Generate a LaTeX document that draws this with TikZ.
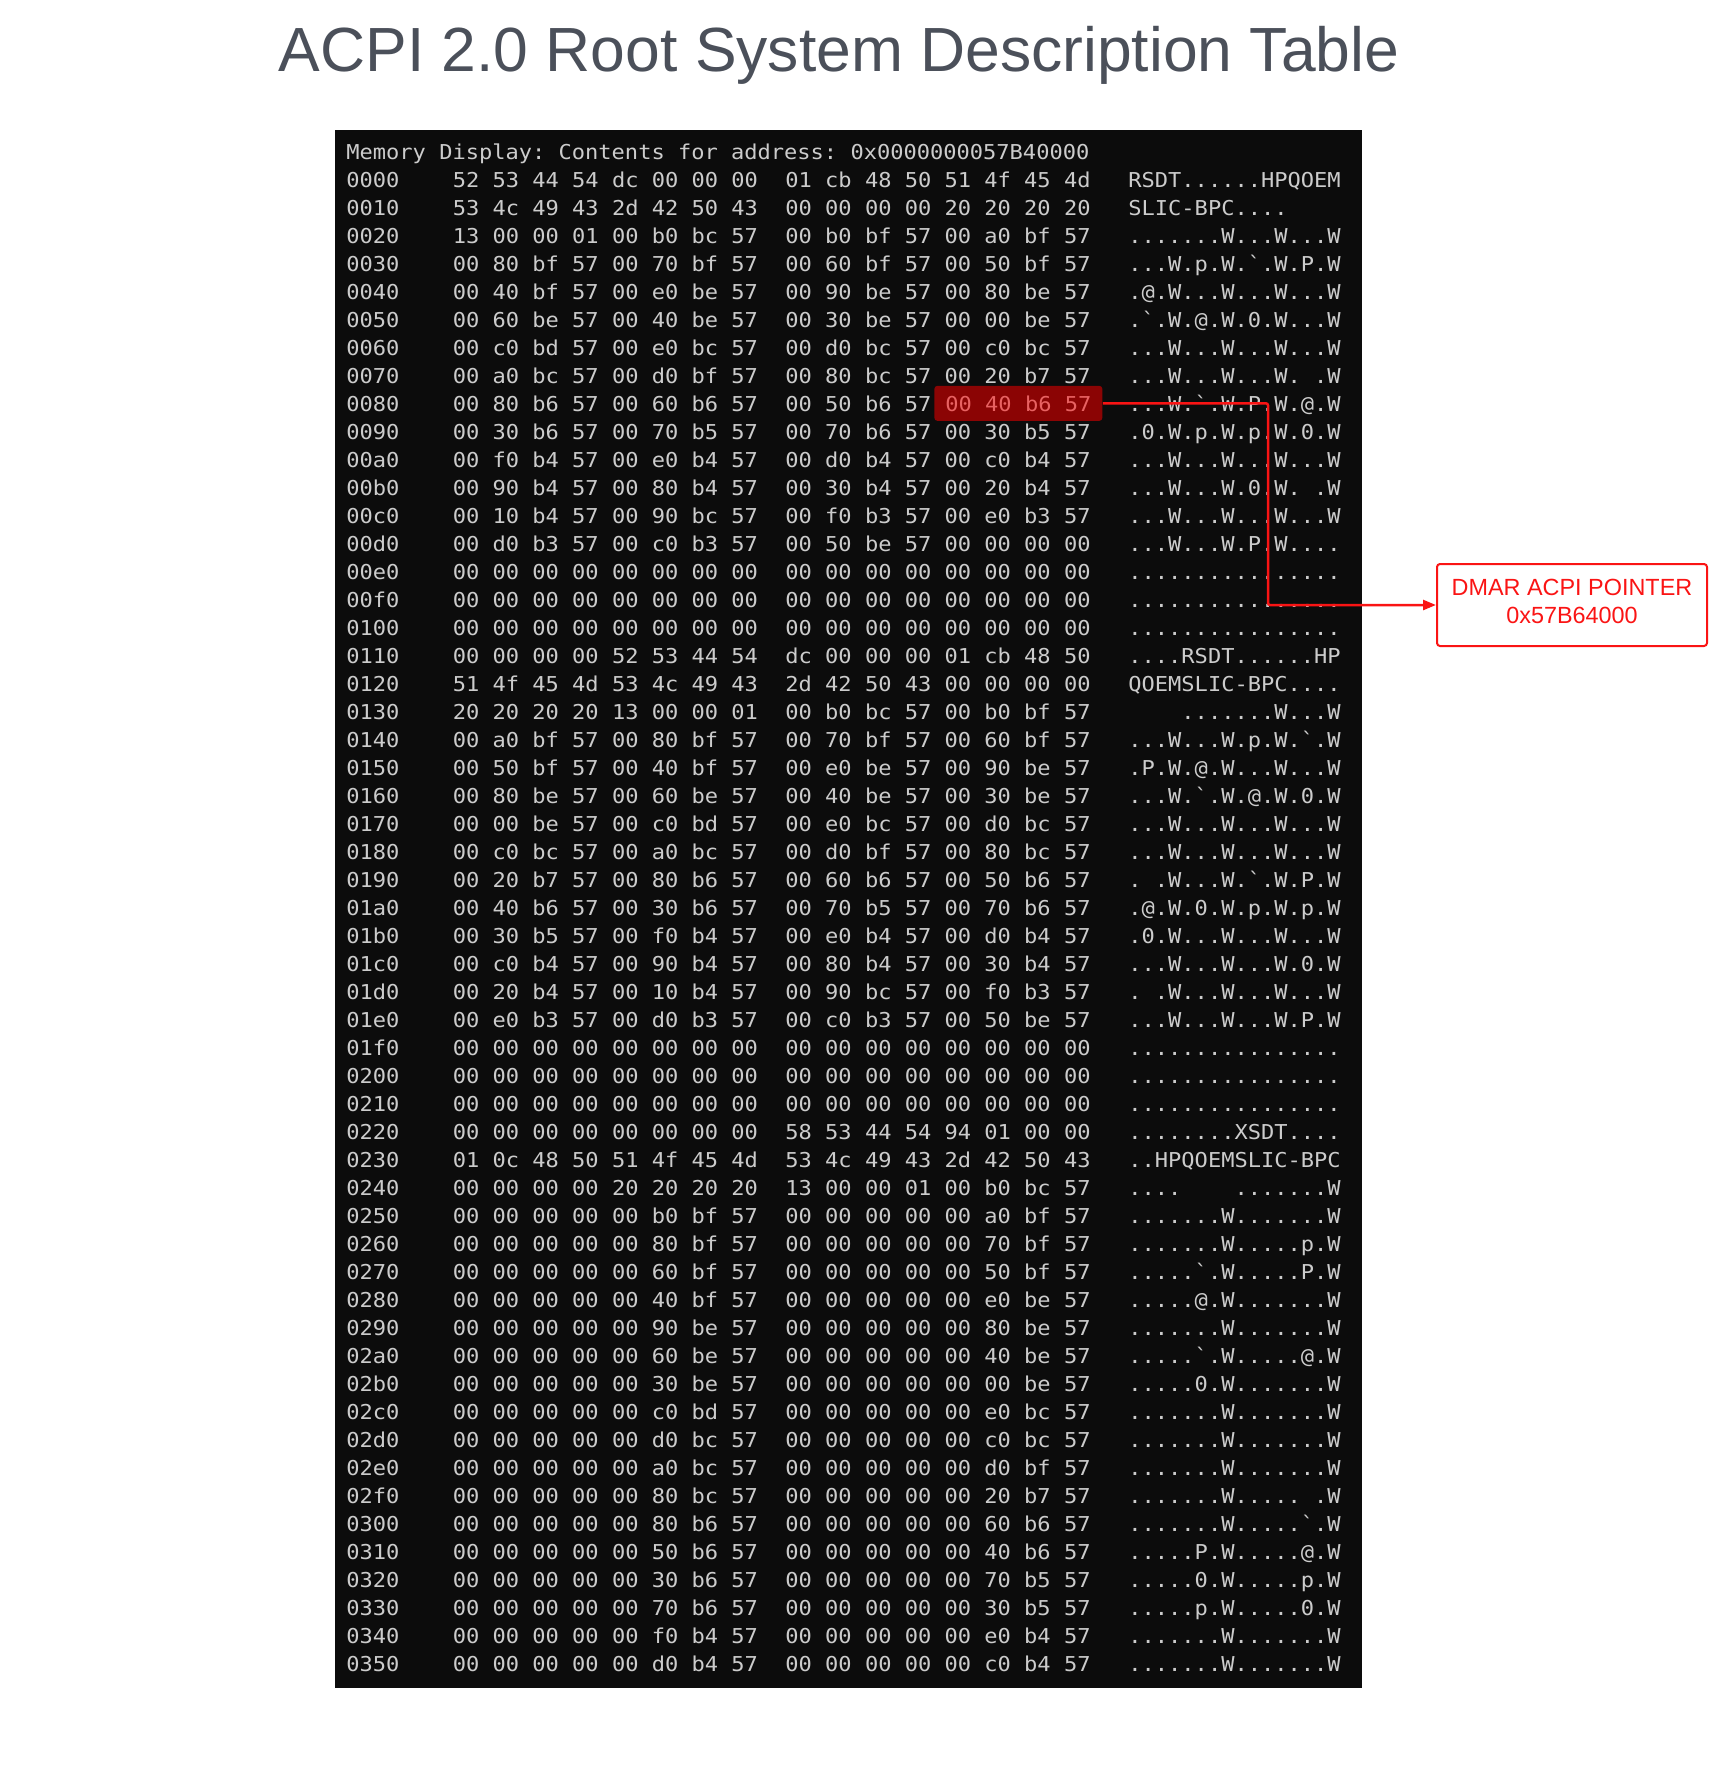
\documentclass[tikz,border=0pt]{standalone}
\usepackage{fontspec}
\setmainfont{Liberation Sans}
\newfontfamily\termfont{DejaVu Sans Mono}[FakeStretch=1.075,Ligatures=TeXOff]
\usetikzlibrary{arrows.meta}

\definecolor{termbg}{RGB}{12,12,12}
\definecolor{termgray}{RGB}{204,204,204}
\definecolor{hlred}{RGB}{139,4,4}
\definecolor{hltext}{RGB}{232,98,98}
\definecolor{ptrred}{RGB}{250,20,20}
\definecolor{titlegray}{RGB}{75,80,90}

% one line of the memory dump: index, address, low bytes, high bytes, ascii
\newcommand{\memrow}[5]{%
  \node[memtext] (adr#2) at (346,{187+28.0*#1}) {#2};
  \node[memtext] (lo#2) at (452.4,{187+28.0*#1}) {#3};
  \node[memtext] (hi#2) at (785,{187+28.0*#1}) {#4};
  \node[memtext] (txt#2) at (1128,{187+28.0*#1}) {#5};}

\begin{document}
\begin{tikzpicture}[
  x=0.5pt, y=-0.5pt,
  memtext/.style={inner sep=0pt, anchor=base west, text=termgray,
    font={\termfont\fontsize{10.25pt}{12pt}\selectfont\frenchspacing}},
  hilite/.style={memtext, fill=hlred, text=hltext, rounded corners=1.5pt,
    inner xsep=5.5pt, minimum height=17.5pt},
  ptrbox/.style={rectangle, draw=ptrred, line width=1pt, rounded corners=1.5pt,
    minimum width=135pt, minimum height=41pt, align=center, text=ptrred,
    font={\fontsize{11.7pt}{14pt}\selectfont}},
  ptrline/.style={draw=ptrred, line width=1.25pt, rounded corners=1pt,
    -{Triangle[length=6.5pt,width=5pt]}}
]
\useasboundingbox (0,0) rectangle (1725,1774);

\node[anchor=base, text=titlegray, font={\fontsize{31.2pt}{36pt}\selectfont}] (title)
  at (839,71.7) {ACPI 2.0 Root System Description Table};

% terminal window
\fill[termbg] (335,130) rectangle (1362,1688);
\node[memtext] (hdr) at (346,159) {Memory Display: Contents for address: 0x0000000057B40000};

\memrow{0}{0000}{52 53 44 54 dc 00 00 00}{01 cb 48 50 51 4f 45 4d}{RSDT......HPQOEM}
\memrow{1}{0010}{53 4c 49 43 2d 42 50 43}{00 00 00 00 20 20 20 20}{SLIC-BPC....}
\memrow{2}{0020}{13 00 00 01 00 b0 bc 57}{00 b0 bf 57 00 a0 bf 57}{.......W...W...W}
\memrow{3}{0030}{00 80 bf 57 00 70 bf 57}{00 60 bf 57 00 50 bf 57}{...W.p.W.`.W.P.W}
\memrow{4}{0040}{00 40 bf 57 00 e0 be 57}{00 90 be 57 00 80 be 57}{.@.W...W...W...W}
\memrow{5}{0050}{00 60 be 57 00 40 be 57}{00 30 be 57 00 00 be 57}{.`.W.@.W.0.W...W}
\memrow{6}{0060}{00 c0 bd 57 00 e0 bc 57}{00 d0 bc 57 00 c0 bc 57}{...W...W...W...W}
\memrow{7}{0070}{00 a0 bc 57 00 d0 bf 57}{00 80 bc 57 00 20 b7 57}{...W...W...W.~.W}
\memrow{8}{0080}{00 80 b6 57 00 60 b6 57}{00 50 b6 57}{...W.`.W.P.W.@.W}
\memrow{9}{0090}{00 30 b6 57 00 70 b5 57}{00 70 b6 57 00 30 b5 57}{.0.W.p.W.p.W.0.W}
\memrow{10}{00a0}{00 f0 b4 57 00 e0 b4 57}{00 d0 b4 57 00 c0 b4 57}{...W...W...W...W}
\memrow{11}{00b0}{00 90 b4 57 00 80 b4 57}{00 30 b4 57 00 20 b4 57}{...W...W.0.W.~.W}
\memrow{12}{00c0}{00 10 b4 57 00 90 bc 57}{00 f0 b3 57 00 e0 b3 57}{...W...W...W...W}
\memrow{13}{00d0}{00 d0 b3 57 00 c0 b3 57}{00 50 be 57 00 00 00 00}{...W...W.P.W....}
\memrow{14}{00e0}{00 00 00 00 00 00 00 00}{00 00 00 00 00 00 00 00}{................}
\memrow{15}{00f0}{00 00 00 00 00 00 00 00}{00 00 00 00 00 00 00 00}{................}
\memrow{16}{0100}{00 00 00 00 00 00 00 00}{00 00 00 00 00 00 00 00}{................}
\memrow{17}{0110}{00 00 00 00 52 53 44 54}{dc 00 00 00 01 cb 48 50}{....RSDT......HP}
\memrow{18}{0120}{51 4f 45 4d 53 4c 49 43}{2d 42 50 43 00 00 00 00}{QOEMSLIC-BPC....}
\memrow{19}{0130}{20 20 20 20 13 00 00 01}{00 b0 bc 57 00 b0 bf 57}{~~~~.......W...W}
\memrow{20}{0140}{00 a0 bf 57 00 80 bf 57}{00 70 bf 57 00 60 bf 57}{...W...W.p.W.`.W}
\memrow{21}{0150}{00 50 bf 57 00 40 bf 57}{00 e0 be 57 00 90 be 57}{.P.W.@.W...W...W}
\memrow{22}{0160}{00 80 be 57 00 60 be 57}{00 40 be 57 00 30 be 57}{...W.`.W.@.W.0.W}
\memrow{23}{0170}{00 00 be 57 00 c0 bd 57}{00 e0 bc 57 00 d0 bc 57}{...W...W...W...W}
\memrow{24}{0180}{00 c0 bc 57 00 a0 bc 57}{00 d0 bf 57 00 80 bc 57}{...W...W...W...W}
\memrow{25}{0190}{00 20 b7 57 00 80 b6 57}{00 60 b6 57 00 50 b6 57}{.~.W...W.`.W.P.W}
\memrow{26}{01a0}{00 40 b6 57 00 30 b6 57}{00 70 b5 57 00 70 b6 57}{.@.W.0.W.p.W.p.W}
\memrow{27}{01b0}{00 30 b5 57 00 f0 b4 57}{00 e0 b4 57 00 d0 b4 57}{.0.W...W...W...W}
\memrow{28}{01c0}{00 c0 b4 57 00 90 b4 57}{00 80 b4 57 00 30 b4 57}{...W...W...W.0.W}
\memrow{29}{01d0}{00 20 b4 57 00 10 b4 57}{00 90 bc 57 00 f0 b3 57}{.~.W...W...W...W}
\memrow{30}{01e0}{00 e0 b3 57 00 d0 b3 57}{00 c0 b3 57 00 50 be 57}{...W...W...W.P.W}
\memrow{31}{01f0}{00 00 00 00 00 00 00 00}{00 00 00 00 00 00 00 00}{................}
\memrow{32}{0200}{00 00 00 00 00 00 00 00}{00 00 00 00 00 00 00 00}{................}
\memrow{33}{0210}{00 00 00 00 00 00 00 00}{00 00 00 00 00 00 00 00}{................}
\memrow{34}{0220}{00 00 00 00 00 00 00 00}{58 53 44 54 94 01 00 00}{........XSDT....}
\memrow{35}{0230}{01 0c 48 50 51 4f 45 4d}{53 4c 49 43 2d 42 50 43}{..HPQOEMSLIC-BPC}
\memrow{36}{0240}{00 00 00 00 20 20 20 20}{13 00 00 01 00 b0 bc 57}{....~~~~.......W}
\memrow{37}{0250}{00 00 00 00 00 b0 bf 57}{00 00 00 00 00 a0 bf 57}{.......W.......W}
\memrow{38}{0260}{00 00 00 00 00 80 bf 57}{00 00 00 00 00 70 bf 57}{.......W.....p.W}
\memrow{39}{0270}{00 00 00 00 00 60 bf 57}{00 00 00 00 00 50 bf 57}{.....`.W.....P.W}
\memrow{40}{0280}{00 00 00 00 00 40 bf 57}{00 00 00 00 00 e0 be 57}{.....@.W.......W}
\memrow{41}{0290}{00 00 00 00 00 90 be 57}{00 00 00 00 00 80 be 57}{.......W.......W}
\memrow{42}{02a0}{00 00 00 00 00 60 be 57}{00 00 00 00 00 40 be 57}{.....`.W.....@.W}
\memrow{43}{02b0}{00 00 00 00 00 30 be 57}{00 00 00 00 00 00 be 57}{.....0.W.......W}
\memrow{44}{02c0}{00 00 00 00 00 c0 bd 57}{00 00 00 00 00 e0 bc 57}{.......W.......W}
\memrow{45}{02d0}{00 00 00 00 00 d0 bc 57}{00 00 00 00 00 c0 bc 57}{.......W.......W}
\memrow{46}{02e0}{00 00 00 00 00 a0 bc 57}{00 00 00 00 00 d0 bf 57}{.......W.......W}
\memrow{47}{02f0}{00 00 00 00 00 80 bc 57}{00 00 00 00 00 20 b7 57}{.......W.....~.W}
\memrow{48}{0300}{00 00 00 00 00 80 b6 57}{00 00 00 00 00 60 b6 57}{.......W.....`.W}
\memrow{49}{0310}{00 00 00 00 00 50 b6 57}{00 00 00 00 00 40 b6 57}{.....P.W.....@.W}
\memrow{50}{0320}{00 00 00 00 00 30 b6 57}{00 00 00 00 00 70 b5 57}{.....0.W.....p.W}
\memrow{51}{0330}{00 00 00 00 00 70 b6 57}{00 00 00 00 00 30 b5 57}{.....p.W.....0.W}
\memrow{52}{0340}{00 00 00 00 00 f0 b4 57}{00 00 00 00 00 e0 b4 57}{.......W.......W}
\memrow{53}{0350}{00 00 00 00 00 d0 b4 57}{00 00 00 00 00 c0 b4 57}{.......W.......W}

% highlighted pointer and its target
\node[hilite] (ptr) at (934,{187+28.0*8}) {00 40 b6 57};
\node[ptrbox] (dmar) at (1572,605) {DMAR ACPI POINTER\\0x57B64000\rule[-3.4pt]{0pt}{3.4pt}};
\coordinate (bend) at (1268,405);

\draw[ptrline] (ptr.east) -- (ptr.east -| bend) |- (dmar.west);
\end{tikzpicture}
\end{document}
